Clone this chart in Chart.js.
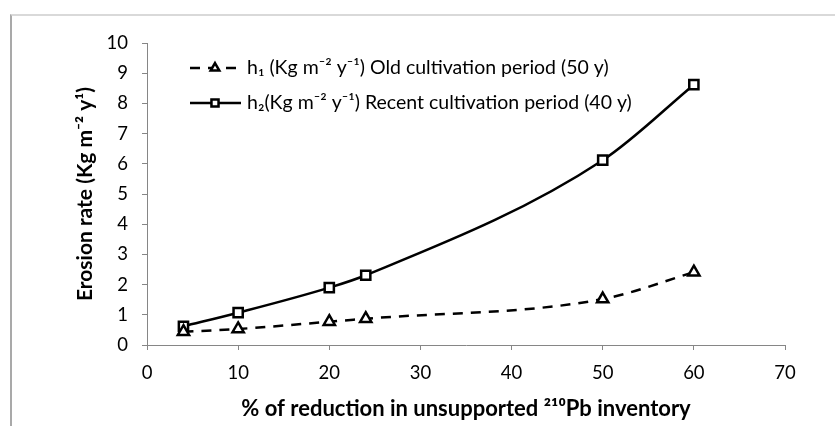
<!DOCTYPE html>
<html>
<head>
<meta charset="utf-8">
<script src="https://cdn.jsdelivr.net/npm/chart.js@4"></script>
<style>
  body { margin: 0; background: #fff; }
  #wrap { position: relative; width: 835px; height: 426px; }
  #frame { position: absolute; left: 10px; top: 14px; right: 0; bottom: 0;
           border-left: 2px solid #a9a9a9; border-top: 2px solid #d9d9d9; }
  canvas { position: absolute; left: 0; top: 0; }
</style>
</head>
<body>
<div id="wrap">
  <div id="frame"></div>
  <canvas id="chart1" width="835" height="426"></canvas>
</div>
<script>
/************* data ********* */
const xValues = [4, 10, 20, 24, 50, 60];
const h1Values = [0.44, 0.53, 0.77, 0.87, 1.52, 2.41];
const h2Values = [0.62, 1.07, 1.90, 2.31, 6.12, 8.62];
const seriesNames = [
    'h\u2081 (Kg m\u207B\u00B2 y\u207B\u00B9) Old cultivation period (50 y)',
    'h\u2082(Kg m\u207B\u00B2 y\u207B\u00B9) Recent cultivation period (40 y)'
];

const fontFamily = 'Lato, "Open Sans", sans-serif';
const axisGray = '#868686';

// legend drawn inside the plot, line sample with marker in the middle
const insideLegend = {
    id: 'insideLegend',
    afterDraw(chart) {
        const ctx = chart.ctx;
        const rows = [
            { y: 68, dash: [10, 8], style: 'triangle' },
            { y: 103, dash: [], style: 'rect' }
        ];
        rows.forEach((r, i) => {
            ctx.save();
            ctx.strokeStyle = '#000';
            ctx.lineWidth = 2.5;
            ctx.setLineDash(r.dash);
            ctx.beginPath();
            ctx.moveTo(190, r.y);
            ctx.lineTo(241, r.y);
            ctx.stroke();
            ctx.setLineDash([]);
            ctx.fillStyle = '#fff';
            Chart.helpers.drawPoint(ctx, {
                pointStyle: r.style, radius: 5, borderWidth: 2.5
            }, 215, r.y);
            ctx.restore();
            ctx.save();
            ctx.fillStyle = '#000';
            ctx.font = '19.5px ' + fontFamily;
            ctx.textBaseline = 'middle';
            ctx.fillText(seriesNames[i], 247, r.y);
            ctx.restore();
        });
    }
};

new Chart("chart1", {
    type: "scatter",
    data: {
        datasets: [{
            label: seriesNames[0],
            data: xValues.map((x, i) => ({ x: x, y: h1Values[i] })),
            showLine: true,
            cubicInterpolationMode: 'monotone',
            borderColor: '#000',
            borderWidth: 2.5,
            borderDash: [10, 8],
            pointStyle: 'triangle',
            pointRadius: 6.5,
            pointBorderWidth: 2.5,
            pointBackgroundColor: '#fff',
            pointBorderColor: '#000'
        }, {
            label: seriesNames[1],
            data: xValues.map((x, i) => ({ x: x, y: h2Values[i] })),
            showLine: true,
            cubicInterpolationMode: 'monotone',
            borderColor: '#000',
            borderWidth: 2.5,
            pointStyle: 'rect',
            pointRadius: 6.5,
            pointBorderWidth: 2.5,
            pointBackgroundColor: '#fff',
            pointBorderColor: '#000'
        }]
    },
    options: {
        responsive: false,
        animation: false,
        layout: { padding: { top: 43, right: 50, left: 0, bottom: 0 } },
        plugins: {
            legend: { display: false },
            tooltip: { enabled: false }
        },
        scales: {
            x: {
                type: 'linear',
                min: 0, max: 70,
                ticks: { stepSize: 10, color: '#000', font: { size: 18.5, family: fontFamily }, padding: 12 },
                grid: { drawOnChartArea: false, drawTicks: true, tickLength: 5, color: axisGray },
                border: { color: axisGray, width: 1 },
                title: {
                    display: true,
                    text: '% of reduction in unsupported \u00B2\u00B9\u2070Pb inventory',
                    color: '#000',
                    font: { size: 22, weight: 'bold', family: fontFamily },
                    padding: { top: 2 }
                },
                afterFit(scale) { scale.height = 81; }
            },
            y: {
                min: 0, max: 10,
                ticks: { stepSize: 1, color: '#000', font: { size: 18.5, family: fontFamily }, padding: 14 },
                grid: { drawOnChartArea: false, drawTicks: true, tickLength: 5, color: axisGray },
                border: { color: axisGray, width: 1 },
                title: {
                    display: true,
                    text: 'Erosion rate (Kg m\u207B\u00B2 y\u00B9)',
                    color: '#000',
                    font: { size: 21, weight: 'bold', family: fontFamily },
                    padding: { top: 73, bottom: 0 }
                },
                afterFit(scale) { scale.width = 147; }
            }
        }
    },
    plugins: [insideLegend]
});
</script>
</body>
</html>
